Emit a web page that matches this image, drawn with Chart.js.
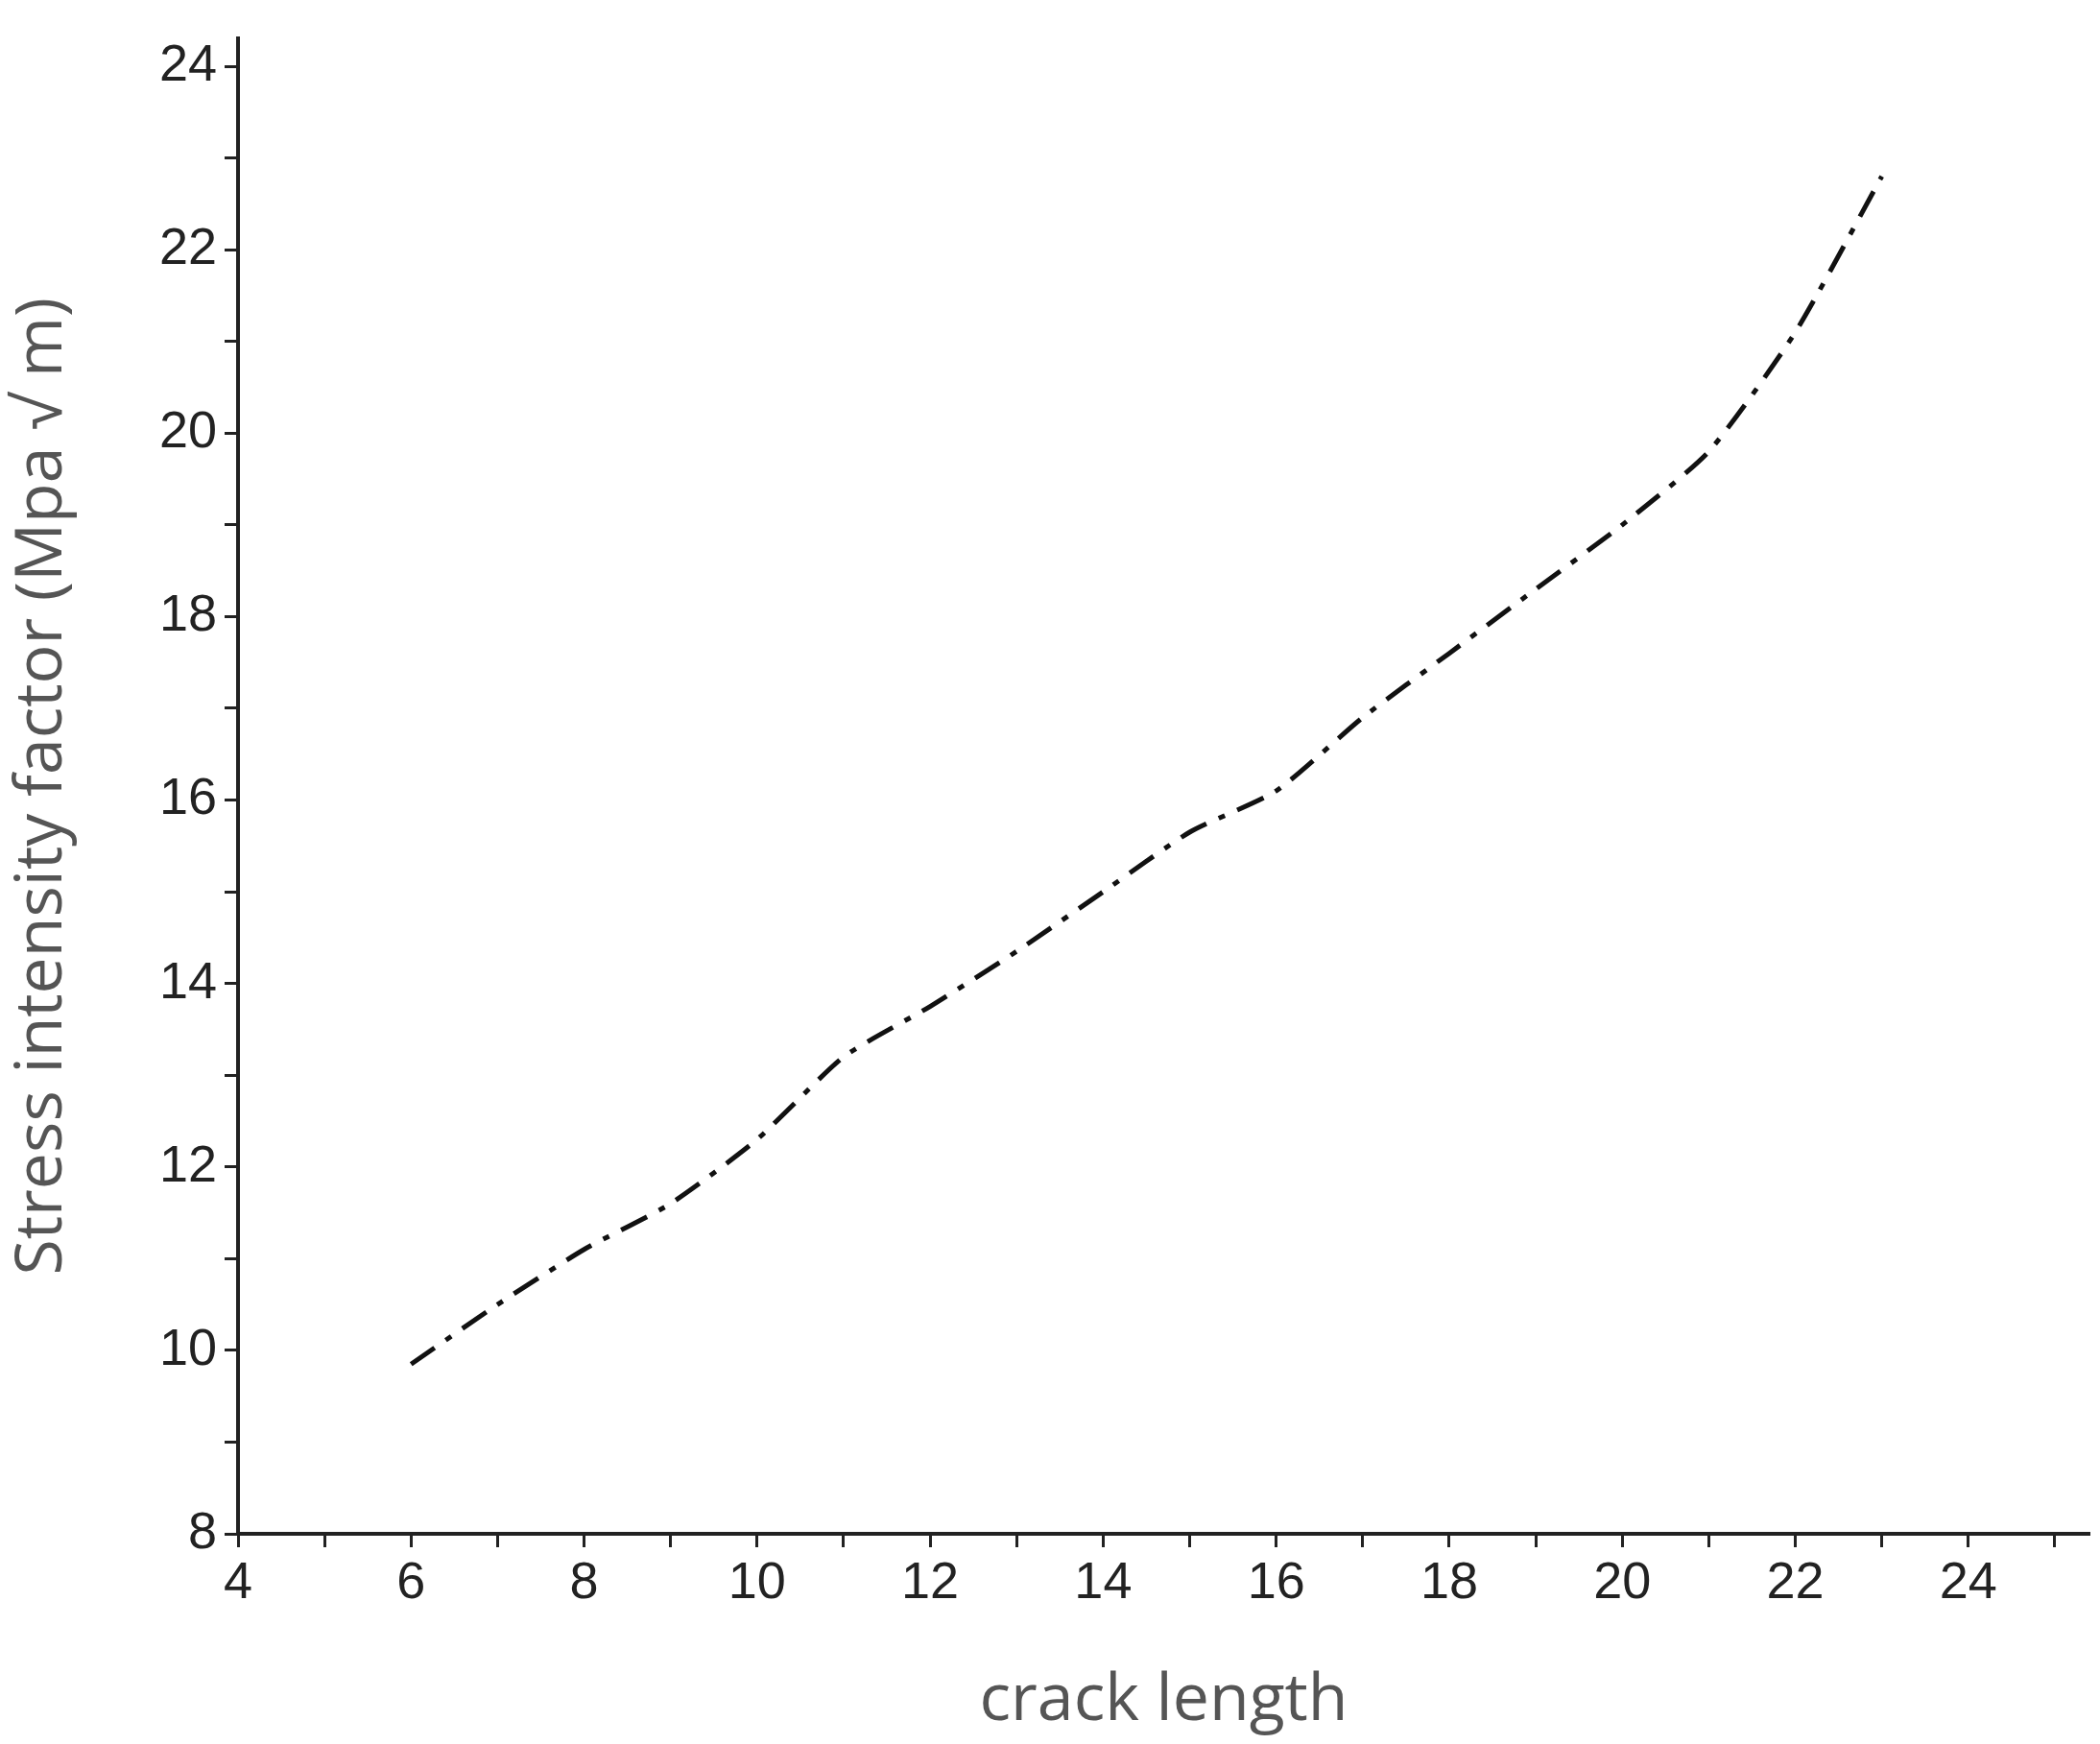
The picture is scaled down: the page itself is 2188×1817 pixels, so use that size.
<!DOCTYPE html>
<html><head><meta charset="utf-8">
<script src="https://cdn.jsdelivr.net/npm/chart.js@4"></script>
<style>html,body{margin:0;padding:0;background:#fff}#w{width:2188px;height:1817px}</style>
</head><body><div id="w"><canvas id="c"></canvas></div>
<script>
const crackLength = [6,7,8,9,10,11,12,13,14,15,16,17,18,19,20,21,22,23];
const stressIntensity = [9.85,10.5,11.1,11.6,12.3,13.2,13.75,14.35,15.0,15.65,16.1,16.9,17.6,18.3,19.0,19.8,21.1,22.8];
const xTickValues = [4,5,6,7,8,9,10,11,12,13,14,15,16,17,18,19,20,21,22,23,24,25];
const yTickValues = [8,9,10,11,12,13,14,15,16,17,18,19,20,21,22,23,24];
const xTitle = 'crack length';
const yTitle = 'Stress intensity factor (Mpa \u221A m)';
Chart.defaults.animation = false;
new Chart(document.getElementById('c'), {
  type: 'line',
  data: { datasets: [{ data: crackLength.map((x,i)=>({x, y: stressIntensity[i]})),
    borderColor:'#111', borderWidth:5, borderDash:[30,14,7,14], pointRadius:0, tension:0.2, fill:false }] },
  options: {
    responsive:true, maintainAspectRatio:false,
    layout:{padding:{top:27,right:11,left:0,bottom:0}},
    plugins:{legend:{display:false},tooltip:{enabled:false}},
    scales:{
      x:{type:'linear',min:4,max:25.4,
        afterFit:s=>{s.height=219;},
        afterBuildTicks:s=>{s.ticks=xTickValues.map(v=>({value:v}));},
        border:{color:'#222',width:4},
        grid:{drawOnChartArea:false,tickLength:14,tickWidth:3,color:'#222'},
        ticks:{autoSkip:false,maxRotation:0,color:'#222',padding:6,font:{family:'Liberation Sans',size:54},
          callback:v=>(v%2===0&&v<=24)?v:''},
        title:{display:true,text:xTitle,color:'#555',font:{family:'Open Sans',size:68},padding:{top:-10}}},
      y:{min:8,max:24.3,
        afterFit:s=>{s.width=248;},
        afterBuildTicks:s=>{s.ticks=yTickValues.map(v=>({value:v}));},
        border:{color:'#222',width:4},
        grid:{drawOnChartArea:false,tickLength:14,tickWidth:3,color:'#222'},
        ticks:{autoSkip:false,color:'#222',padding:8,font:{family:'Liberation Sans',size:54},
          callback:v=>(v%2===0&&v<=24)?v:''},
        title:{display:true,text:yTitle,color:'#555',font:{family:'Open Sans',size:68},padding:{bottom:4}}}
    }
  }
});
</script></body></html>
